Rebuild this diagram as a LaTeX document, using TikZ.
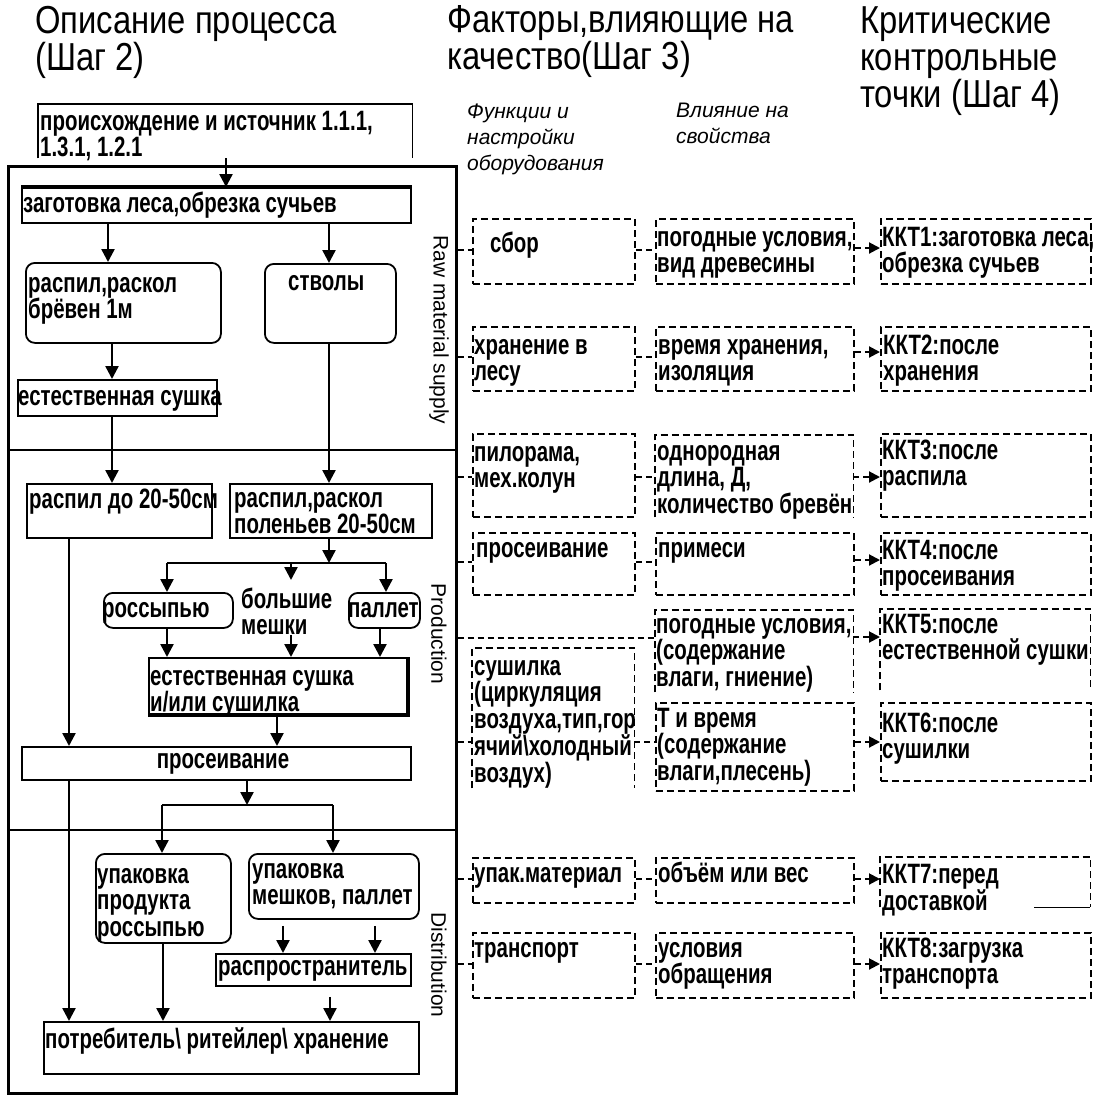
\documentclass[tikz,border=0pt]{standalone}
\usepackage{fontspec}
\setmainfont{Liberation Sans}[FakeStretch=0.73]
\newfontfamily\hdfont{Liberation Sans}[FakeStretch=0.84]
\newfontfamily\plainfont{Liberation Sans}
\usetikzlibrary{arrows.meta}
\newcommand\Tb[4]{\node[tb] (#1) at (#2,#3-28) {\rule{0pt}{28pt}#4};}
\newcommand\Ti[4]{\node[ti] (#1) at (#2,#3-21) {\rule{0pt}{21pt}#4};}
\newcommand\Th[4]{\node[th] (#1) at (#2,#3-39) {\rule{0pt}{39pt}#4};}
\newcommand\Bx[6]{\node[#1, minimum width={(#5)-(#3)}, minimum height={(#6)-(#4)}] (#2) at (#3,#4) {};}
\newcommand\Open[1]{\draw[dline] (#1.south west) -- (#1.north west) -- (#1.north east) -- (#1.south east);}
\begin{document}
\begin{tikzpicture}[x=1pt,y=-1pt,
 tb/.style={anchor=north west, inner sep=0pt, align=left, font=\fontsize{28}{26.5}\selectfont\bfseries},
 ti/.style={anchor=north west, inner sep=0pt, align=left, font=\plainfont\fontsize{21}{26}\selectfont\itshape},
 th/.style={anchor=north west, inner sep=0pt, align=left, font=\hdfont\fontsize{39}{37}\selectfont},
 side/.style={inner sep=0pt, rotate=-90, font=\plainfont\fontsize{21}{21}\selectfont},
 nbox/.style={anchor=north west, inner sep=0pt},
 sbox/.style={nbox, draw, line width=1.8pt},
 obox/.style={nbox, draw, line width=2.6pt},
 rbox/.style={sbox, rounded corners=9pt},
 dbox/.style={nbox, draw, line width=1.8pt, dash pattern=on 7pt off 4pt},
 dline/.style={line width=1.8pt, dash pattern=on 7pt off 4pt},
 arr/.style={line width=2.4pt, -{Triangle[length=13pt,width=13pt]}},
 pline/.style={line width=2.4pt},
 conn/.style={line width=2pt, dash pattern=on 6pt off 4pt},
 carr/.style={conn, -{Triangle[length=11pt,width=11pt]}},
 sep/.style={line width=1.2pt},
]
\useasboundingbox (0,0) rectangle (1095,1096);
\fill[white] (0,0) rectangle (1095,1096);

% headers
\Th{h1}{35}{33}{Описание процесса\\(Шаг 2)}
\Th{h2}{447}{32}{Факторы,влияющие на\\качество(Шаг 3)}
\Th{h3}{860}{33}{Критические\\контрольные\\точки (Шаг 4)}
\Ti{f1}{467}{118}{Функции и\\настройки\\оборудования}
\Ti{f2}{676}{117}{Влияние на\\свойства}

% outer frame and sections
\Bx{obox}{outer}{7}{165}{455}{1092}
\draw[sep] (outer.west |- 0,450) -- (outer.east |- 0,450);
\draw[sep] (outer.west |- 0,830) -- (outer.east |- 0,830);
\node[side] (lraw) at (439,330) {Raw material supply};
\node[side] (lprod) at (439,634) {Production};
\node[side] (ldist) at (439,965) {Distribution};

% left process boxes
\Bx{nbox}{src}{38}{104}{412}{158}
\draw[line width=1.8pt] (src.south west) -- (src.north west) -- (src.north east) -- (src.south east);
\Tb{srct}{40}{130}{происхождение и источник 1.1.1,\\1.3.1, 1.2.1}
\Bx{sbox}{zag}{21}{187}{410}{222}
\draw[line width=4pt] (zag.north west) -- (zag.north east);
\Tb{zagt}{23}{212}{заготовка леса,обрезка сучьев}
\Bx{rbox}{rsp1}{25}{262}{220}{342}
\Tb{rsp1t}{28}{292}{распил,раскол\\брёвен 1м}
\Bx{rbox}{stv}{264}{263}{395}{342}
\Tb{stvt}{288}{290}{стволы}
\Bx{sbox}{es1}{17}{379}{216}{415}
\Tb{es1t}{18}{405}{естественная сушка}
\Bx{sbox}{r2050}{26}{483}{211}{537}
\Tb{r2050t}{29}{508}{распил до 20-50см}
\Bx{sbox}{rpol}{229}{483}{431}{537}
\Tb{rpolt}{234}{507}{распил,раскол\\поленьев 20-50см}
\Bx{rbox}{ross}{103}{592}{232}{627}
\Tb{rosst}{102}{617}{россыпью}
\Tb{bm}{241}{608}{большие\\мешки}
\Bx{rbox}{pal}{348}{592}{419}{627}
\Tb{palt}{348}{617}{паллет}
\Bx{sbox}{es2}{148}{657}{406}{713}
\draw[line width=4pt] (es2.north east) -- (es2.south east) -- (es2.south west);
\Tb{es2t}{150}{685}{естественная сушка\\и/или сушилка}
\Bx{sbox}{pros}{21}{746}{410}{779}
\node[tb, anchor=base] (prost) at (223,768) {просеивание};
\Bx{rbox}{upr}{95}{853}{230}{942}
\Tb{uprt}{97}{883}{упаковка\\продукта\\россыпью}
\Bx{rbox}{upm}{248}{853}{418}{918}
\Tb{upmt}{252}{878}{упаковка\\мешков, паллет}
\Bx{sbox}{dist}{215}{953}{410}{985}
\Tb{distt}{218}{975}{распространитель}
\Bx{sbox}{cons}{43}{1021}{418}{1073}
\Tb{const}{45}{1048}{потребитель\textbackslash{} ритейлер\textbackslash{} хранение}

% junctions
\coordinate (j1) at (329,563);
\coordinate (j1l) at (167,563);
\coordinate (j1r) at (386,563);
\coordinate (j2) at (247,805);
\coordinate (j2l) at (162,805);
\coordinate (j2r) at (333,805);

% left arrows
\draw[arr] (226,0 |- src.south) -- (226,0 |- zag.north);
\draw[arr] (108,0 |- zag.south) -- (108,0 |- rsp1.north);
\draw[arr] (329,0 |- zag.south) -- (329,0 |- stv.north);
\draw[arr] (112,0 |- rsp1.south) -- (112,0 |- es1.north);
\draw[arr] (112,0 |- es1.south) -- (112,0 |- r2050.north);
\draw[arr] (329,0 |- stv.south) -- (329,0 |- rpol.north);
\draw[arr] (329,0 |- rpol.south) -- (j1);
\draw[pline] (j1l) -- (j1r);
\draw[arr] (j1l) -- (167,0 |- ross.north);
\draw[arr] (291,0 |- j1) -- (291,0 |- bm.north);
\draw[arr] (j1r) -- (386,0 |- pal.north);
\draw[arr] (167,0 |- ross.south) -- (167,0 |- es2.north);
\draw[arr] (291,0 |- bm.south) -- (291,0 |- es2.north);
\draw[arr] (380,0 |- pal.south) -- (380,0 |- es2.north);
\draw[arr] (277,0 |- es2.south) -- (277,0 |- pros.north);
\draw[arr] (69,0 |- r2050.south) -- (69,0 |- pros.north);
\draw[arr] (247,0 |- pros.south) -- (j2);
\draw[pline] (j2l) -- (j2r);
\draw[arr] (j2l) -- (162,0 |- upr.north);
\draw[arr] (j2r) -- (333,0 |- upm.north);
\draw[arr] (69,0 |- pros.south) -- (69,0 |- cons.north);
\draw[arr] (163,0 |- upr.south) -- (163,0 |- cons.north);
\draw[arr, shorten <=6pt] (283,0 |- upm.south) -- (283,0 |- dist.north);
\draw[arr, shorten <=6pt] (375,0 |- upm.south) -- (375,0 |- dist.north);
\draw[arr, shorten <=10pt] (330,0 |- dist.south) -- (330,0 |- cons.north);

% right dashed boxes
\Bx{dbox}{a1}{472}{218}{634}{283}
\Bx{dbox}{b1}{655}{218}{853}{283}
\Bx{dbox}{k1}{880}{218}{1090}{283}
\Tb{a1t}{490}{252}{сбор}
\Tb{b1t}{657}{246}{погодные условия,\\вид древесины}
\Tb{k1t}{882}{246}{ККТ1:заготовка леса,\\обрезка сучьев}

\Bx{dbox}{a2}{472}{326}{634}{390}
\Bx{dbox}{b2}{655}{326}{853}{390}
\Bx{dbox}{k2}{880}{326}{1090}{390}
\Tb{a2t}{474}{354}{хранение в\\лесу}
\Tb{b2t}{658}{354}{время хранения,\\изоляция}
\Tb{k2t}{883}{354}{ККТ2:после\\хранения}

\Bx{dbox}{a3}{472}{433}{634}{516}
\Bx{nbox}{b3}{655}{435}{853}{517}
\Open{b3}
\Bx{dbox}{k3}{880}{433}{1090}{516}
\Tb{a3t}{474}{461}{пилорама,\\мех.колун}
\Tb{b3t}{657}{460}{однородная\\длина, Д,\\количество бревён}
\Tb{k3t}{882}{459}{ККТ3:после\\распила}

\Bx{dbox}{a4}{472}{532}{634}{594}
\Bx{dbox}{b4}{655}{532}{853}{594}
\Bx{dbox}{k4}{880}{532}{1090}{594}
\Tb{a4t}{476}{557}{просеивание}
\Tb{b4t}{658}{557}{примеси}
\Tb{k4t}{882}{559}{ККТ4:после\\просеивания}

\Bx{nbox}{b5}{655}{610}{853}{692}
\Open{b5}
\Bx{nbox}{k5}{880}{609}{1090}{690}
\Open{k5}
\Tb{b5t}{656}{633}{погодные условия,\\(содержание\\влаги, гниение)}
\Tb{k5t}{882}{633}{ККТ5:после\\естественной сушки}
\Bx{nbox}{a56}{472}{648}{634}{788}
\Open{a56}
\Tb{a56t}{474}{675}{сушилка\\(циркуляция\\воздуха,тип,гор\\ячий\textbackslash холодный\\воздух)}

\Bx{dbox}{b6}{655}{702}{853}{790}
\Bx{dbox}{k6}{880}{702}{1090}{780}
\Tb{b6t}{657}{727}{Т и время\\(содержание\\влаги,плесень)}
\Tb{k6t}{882}{732}{ККТ6:после\\сушилки}

\Bx{dbox}{a7}{472}{857}{634}{902}
\Bx{dbox}{b7}{655}{857}{853}{902}
\Bx{nbox}{k7}{880}{857}{1090}{907}
\Open{k7}
\draw[line width=1.8pt] ([xshift=-56pt]k7.south east) -- (k7.south east);
\Tb{a7t}{474}{882}{упак.материал}
\Tb{b7t}{658}{882}{объём или вес}
\Tb{k7t}{882}{883}{ККТ7:перед\\доставкой}

\Bx{dbox}{a8}{472}{932}{634}{997}
\Bx{dbox}{b8}{655}{932}{853}{997}
\Bx{dbox}{k8}{880}{932}{1090}{997}
\Tb{a8t}{474}{957}{транспорт}
\Tb{b8t}{658}{957}{условия\\обращения}
\Tb{k8t}{882}{957}{ККТ8:загрузка\\транспорта}

% connectors
\draw[conn] (outer.east |- 0,250) -- (a1.west |- 0,250);
\draw[conn] (a1.east |- 0,250) -- (b1.west |- 0,250);
\draw[carr] (b1.east |- 0,248) -- (k1.west |- 0,248);
\draw[conn] (outer.east |- 0,357) -- (a2.west |- 0,357);
\draw[conn] (a2.east |- 0,357) -- (b2.west |- 0,357);
\draw[carr] (b2.east |- 0,352) -- (k2.west |- 0,352);
\draw[conn] (outer.east |- 0,477) -- (a3.west |- 0,477);
\draw[conn] (a3.east |- 0,477) -- (b3.west |- 0,477);
\draw[carr] (b3.east |- 0,477) -- (k3.west |- 0,477);
\draw[conn] (outer.east |- 0,562) -- (a4.west |- 0,562);
\draw[conn] (a4.east |- 0,562) -- (b4.west |- 0,562);
\draw[carr] (b4.east |- 0,560) -- (k4.west |- 0,560);
\draw[conn] (outer.east |- 0,638) -- (b5.west |- 0,638);
\draw[carr] (b5.east |- 0,637) -- (k5.west |- 0,637);
\draw[conn] (outer.east |- 0,742) -- (a56.west |- 0,742);
\draw[conn] (a56.east |- 0,742) -- (b6.west |- 0,742);
\draw[carr] (b6.east |- 0,742) -- (k6.west |- 0,742);
\draw[conn] (outer.east |- 0,879) -- (a7.west |- 0,879);
\draw[conn] (a7.east |- 0,879) -- (b7.west |- 0,879);
\draw[carr] (b7.east |- 0,879) -- (k7.west |- 0,879);
\draw[conn] (outer.east |- 0,964) -- (a8.west |- 0,964);
\draw[conn] (a8.east |- 0,964) -- (b8.west |- 0,964);
\draw[carr] (b8.east |- 0,964) -- (k8.west |- 0,964);
\end{tikzpicture}
\end{document}
